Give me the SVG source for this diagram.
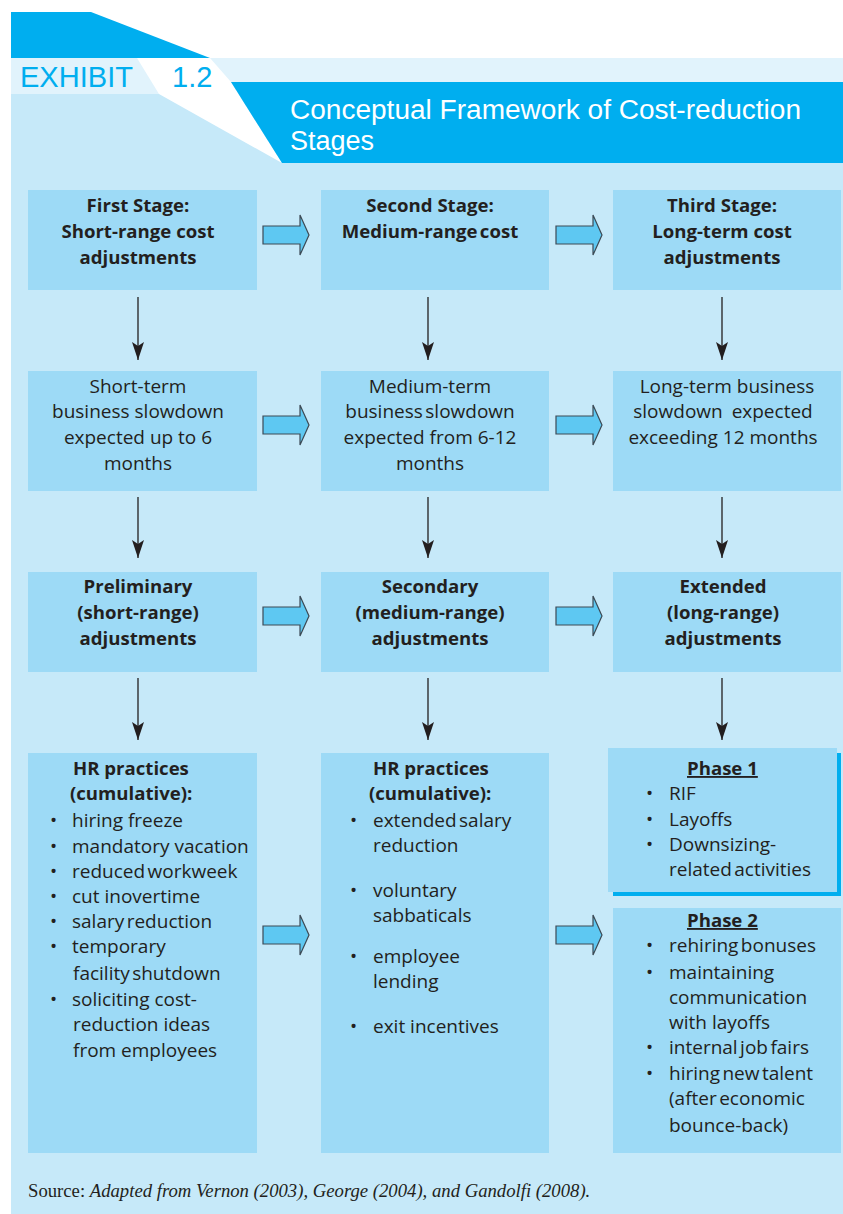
<svg xmlns="http://www.w3.org/2000/svg" width="843" height="1214" viewBox="0 0 843 1214">
  <style>
    .box { fill: #9ddaf6; }
    .t { font-family: "Open Sans", "DejaVu Sans", sans-serif; font-size: 19px; fill: #231f20; }
    .b { font-weight: bold; font-size: 18.6px; }
    .c { text-anchor: middle; }
    .tight { word-spacing: -2.5px; }
    .stem { stroke: #231f20; stroke-width: 1.3; fill: none; marker-end: url(#head); }
    .block { fill: #5ec8f2; stroke: #3c4a55; stroke-width: 1.2; }
    .u { text-decoration: underline; }
  </style>
  <defs>
    <marker id="head" viewBox="0 0 18 12" refX="18" refY="6" markerWidth="18" markerHeight="12" markerUnits="userSpaceOnUse" orient="auto">
      <path d="M0,0 L18,6 L0,12 L4,6 Z" fill="#231f20"/>
    </marker>
    <path id="fat" class="block" d="M0,-9 H37 V-20 L46,0 L37,20 V9 H0 Z"/>
  </defs>

  <!-- page and header -->
  <rect width="843" height="1214" fill="#ffffff"/>
  <rect x="11" y="58" width="832" height="1156" fill="#c6e9f9"/>
  <rect x="11" y="58" width="832" height="36" fill="#e1f3fc"/>
  <polygon points="11,12 91,12 210,58 11,58" fill="#00aeef"/>
  <polygon points="137,58 210,58 231,82 282,163 159,94" fill="#ffffff"/>
  <polygon points="231,82 843,82 843,163 282,163" fill="#00aeef"/>
  <text x="20" y="87" font-family="Liberation Sans, Arial, sans-serif" font-size="29" fill="#00aeef" textLength="113" lengthAdjust="spacingAndGlyphs">EXHIBIT</text>
  <text x="172" y="87" font-family="Liberation Sans, Arial, sans-serif" font-size="29" fill="#00aeef">1.2</text>
  <text x="290" y="119" font-family="Liberation Sans, Arial, sans-serif" font-size="27" fill="#ffffff" textLength="511" lengthAdjust="spacingAndGlyphs">Conceptual Framework of Cost-reduction</text>
  <text x="290" y="150" font-family="Liberation Sans, Arial, sans-serif" font-size="27" fill="#ffffff">Stages</text>

  <!-- connectors -->
  <g id="connectors">
    <line class="stem" x1="138" y1="297" x2="138" y2="360"/>
    <line class="stem" x1="428" y1="297" x2="428" y2="360"/>
    <line class="stem" x1="722" y1="297" x2="722" y2="360"/>
    <line class="stem" x1="138" y1="497" x2="138" y2="558"/>
    <line class="stem" x1="428" y1="497" x2="428" y2="558"/>
    <line class="stem" x1="722" y1="497" x2="722" y2="558"/>
    <line class="stem" x1="138" y1="678" x2="138" y2="740"/>
    <line class="stem" x1="428" y1="678" x2="428" y2="740"/>
    <line class="stem" x1="722" y1="678" x2="722" y2="740"/>
    <use href="#fat" x="263" y="235"/>
    <use href="#fat" x="556" y="235"/>
    <use href="#fat" x="263" y="425"/>
    <use href="#fat" x="556" y="425"/>
    <use href="#fat" x="263" y="616"/>
    <use href="#fat" x="556" y="616"/>
    <use href="#fat" x="263" y="935"/>
    <use href="#fat" x="556" y="935"/>
  </g>

  <!-- row 1: stages -->
  <g id="stage1">
    <rect class="box" x="28" y="190" width="229" height="100"/>
    <text class="t b c" x="138" y="212">First Stage:</text>
    <text class="t b c" x="138" y="238">Short-range cost</text>
    <text class="t b c" x="138" y="264">adjustments</text>
  </g>
  <g id="stage2">
    <rect class="box" x="321" y="190" width="228" height="100"/>
    <text class="t b c" x="430" y="212">Second Stage:</text>
    <text class="t b c tight" x="430" y="238">Medium-range cost</text>
  </g>
  <g id="stage3">
    <rect class="box" x="613" y="190" width="228" height="100"/>
    <text class="t b c" x="722" y="212">Third Stage:</text>
    <text class="t b c" x="722" y="238">Long-term cost</text>
    <text class="t b c" x="722" y="264">adjustments</text>
  </g>

  <!-- row 2: expected slowdown -->
  <g id="slowdown1">
    <rect class="box" x="28" y="371" width="229" height="120"/>
    <text class="t c" x="138" y="393">Short-term</text>
    <text class="t c" x="138" y="418">business slowdown</text>
    <text class="t c" x="138" y="444">expected up to 6</text>
    <text class="t c" x="138" y="470">months</text>
  </g>
  <g id="slowdown2">
    <rect class="box" x="321" y="371" width="228" height="120"/>
    <text class="t c" x="430" y="393">Medium-term</text>
    <text class="t c tight" x="430" y="418">business slowdown</text>
    <text class="t c" x="430" y="444">expected from 6-12</text>
    <text class="t c" x="430" y="470">months</text>
  </g>
  <g id="slowdown3">
    <rect class="box" x="613" y="371" width="228" height="120"/>
    <text class="t c" x="727" y="393">Long-term business</text>
    <text class="t c" x="723" y="418" word-spacing="4">slowdown expected</text>
    <text class="t c" x="723" y="444">exceeding 12 months</text>
  </g>

  <!-- row 3: adjustments -->
  <g id="adjust1">
    <rect class="box" x="28" y="572" width="229" height="100"/>
    <text class="t b c" x="138" y="593">Preliminary</text>
    <text class="t b c" x="138" y="619">(short-range)</text>
    <text class="t b c" x="138" y="645">adjustments</text>
  </g>
  <g id="adjust2">
    <rect class="box" x="321" y="572" width="228" height="100"/>
    <text class="t b c" x="430" y="593">Secondary</text>
    <text class="t b c" x="430" y="619">(medium-range)</text>
    <text class="t b c" x="430" y="645">adjustments</text>
  </g>
  <g id="adjust3">
    <rect class="box" x="613" y="572" width="228" height="100"/>
    <text class="t b c" x="723" y="593">Extended</text>
    <text class="t b c" x="723" y="619">(long-range)</text>
    <text class="t b c" x="723" y="645">adjustments</text>
  </g>

  <!-- row 4: HR practices -->
  <g id="practices1">
    <rect class="box" x="28" y="753" width="229" height="400"/>
    <text class="t b" x="73" y="775">HR practices</text>
    <text class="t b" x="70" y="800">(cumulative):</text>
    <g class="t">
      <text x="50" y="827">•</text><text x="72" y="827">hiring freeze</text>
      <text x="50" y="853">•</text><text x="72" y="853">mandatory vacation</text>
      <text x="50" y="878">•</text><text class="tight" x="72" y="878">reduced workweek</text>
      <text x="50" y="903">•</text><text x="72" y="903">cut inovertime</text>
      <text x="50" y="928">•</text><text class="tight" x="72" y="928">salary reduction</text>
      <text x="50" y="953">•</text><text x="72" y="953">temporary</text>
      <text class="tight" x="73" y="980">facility shutdown</text>
      <text x="50" y="1006">•</text><text x="72" y="1006">soliciting cost-</text>
      <text x="73" y="1031">reduction ideas</text>
      <text x="73" y="1057">from employees</text>
    </g>
  </g>
  <g id="practices2">
    <rect class="box" x="321" y="753" width="228" height="400"/>
    <text class="t b" x="373" y="775">HR practices</text>
    <text class="t b" x="369" y="800">(cumulative):</text>
    <g class="t">
      <text x="350" y="827">•</text><text class="tight" x="373" y="827">extended salary</text>
      <text x="373" y="852">reduction</text>
      <text x="350" y="897">•</text><text x="373" y="897">voluntary</text>
      <text x="373" y="922">sabbaticals</text>
      <text x="350" y="963">•</text><text x="373" y="963">employee</text>
      <text x="373" y="988">lending</text>
      <text x="350" y="1033">•</text><text x="373" y="1033">exit incentives</text>
    </g>
  </g>
  <g id="phase1">
    <rect x="613" y="753" width="228" height="143" fill="#00aeef"/>
    <rect class="box" x="608" y="748" width="229" height="144"/>
    <text class="t b u" x="687" y="775">Phase 1</text>
    <g class="t">
      <text x="646" y="800">•</text><text x="669" y="800">RIF</text>
      <text x="646" y="826">•</text><text x="669" y="826">Layoffs</text>
      <text x="646" y="851">•</text><text x="669" y="851">Downsizing-</text>
      <text class="tight" x="669" y="876">related activities</text>
    </g>
  </g>
  <g id="phase2">
    <rect class="box" x="613" y="908" width="228" height="245"/>
    <text class="t b u" x="687" y="927">Phase 2</text>
    <g class="t">
      <text x="646" y="952">•</text><text class="tight" x="669" y="952">rehiring bonuses</text>
      <text x="646" y="979">•</text><text x="669" y="979">maintaining</text>
      <text x="669" y="1004">communication</text>
      <text x="669" y="1029">with layoffs</text>
      <text x="646" y="1054">•</text><text class="tight" x="669" y="1054">internal job fairs</text>
      <text x="646" y="1080">•</text><text class="tight" x="669" y="1080">hiring new talent</text>
      <text class="tight" x="669" y="1105">(after economic</text>
      <text x="669" y="1132">bounce-back)</text>
    </g>
  </g>

  <!-- source line -->
  <text x="28" y="1197" font-family="Liberation Serif, Times New Roman, serif" font-size="18.7" fill="#231f20">Source: <tspan font-style="italic">Adapted from Vernon (2003), George (2004), and Gandolfi (2008).</tspan></text>
</svg>
